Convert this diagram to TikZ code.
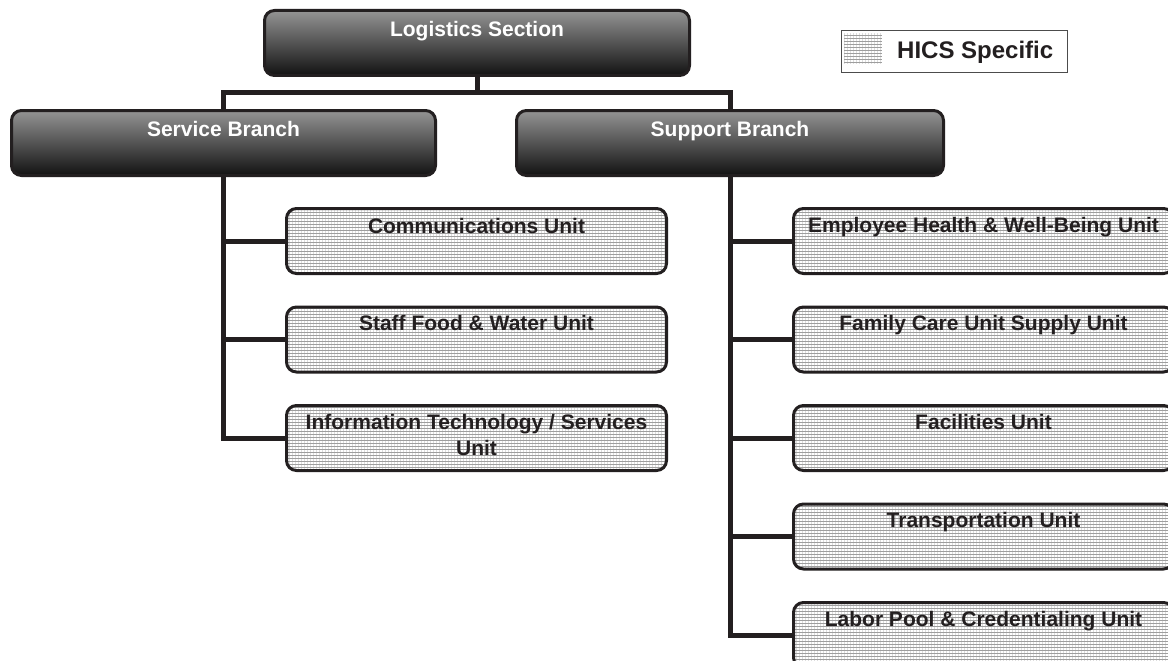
\documentclass[tikz,border=0pt]{standalone}
\usepackage{fontspec}
\setmainfont{Liberation Sans}
\usetikzlibrary{patterns.meta}
\definecolor{ChartInk}{RGB}{35,31,32}
\newcommand{\chartfont}{\fontsize{21}{26}\selectfont\bfseries}

\begin{document}
\begin{tikzpicture}[
    x=1pt, y=-1pt,
    every node/.style={font=\chartfont},
    hatched/.style={preaction={fill=black!38}, pattern={Lines[distance=3pt, line width=1.1pt]}, pattern color=white},
    headtext/.style={anchor=north, yshift=-12pt, inner sep=0pt, text=white, align=center},
    unittext/.style={anchor=north, yshift=-10pt, inner sep=0pt, text=ChartInk, align=center},
    section/.style={draw=ChartInk, line width=3pt, rounded corners=10pt, minimum height=65pt,
        top color=black!42, middle color=black!70, bottom color=black!93,
        label={[headtext]north:#1}},
    unit/.style={draw=ChartInk, line width=3pt, rounded corners=10pt, minimum width=380pt, minimum height=65pt,
        hatched, label={[unittext]north:#1}},
    link/.style={line width=5pt, ChartInk}
]
\clip (0,0) rectangle (1168,661);
\fill[white] (0,0) rectangle (1168,661);

\node[section={Logistics Section}, minimum width=425pt] (log) at (477,43) {};
\node[section={Service Branch}, minimum width=424pt] (svc) at (223.5,143) {};
\node[section={Support Branch}, minimum width=427pt] (sup) at (730,143) {};

% service units
\node[unit={Communications Unit}] (comm) at (476.5,241) {};
\node[unit={Staff Food \& Water Unit}] (food) at (476.5,339.5) {};
\node[unit={Information Technology / Services\\Unit}] (it) at (476.5,438) {};

% support units
\node[unit={Employee Health \& Well-Being Unit}] (health) at (983.5,241) {};
\node[unit={Family Care Unit Supply Unit}] (family) at (983.5,339.5) {};
\node[unit={Facilities Unit}] (fac) at (983.5,438) {};
\node[unit={Transportation Unit}] (trans) at (983.5,536.5) {};
\node[unit={Labor Pool \& Credentialing Unit}] (labor) at (983.5,635) {};

\coordinate (bus) at (477,93);
\draw[link] (log) -- (bus);
\draw[link] (svc) |- (bus) -| (sup);

\draw[link] (svc) |- (it);
\foreach \u in {comm,food}
    \draw[link] (svc |- \u) -- (\u);

\draw[link] (sup) |- (labor);
\foreach \u in {health,family,fac,trans}
    \draw[link] (sup |- \u) -- (\u);

% legend
\node[draw=black!70, line width=1.2pt, minimum width=226pt, minimum height=42pt] (legend) at (954.5,51.5) {};
\node[hatched, minimum width=38pt, minimum height=31pt, inner sep=0pt] (swatch) at (863,49) {};
\node[anchor=base west, inner sep=0pt, font=\fontsize{24}{29}\selectfont\bfseries, text=ChartInk] (legtext) at (897,59) {HICS Specific};
\end{tikzpicture}
\end{document}
